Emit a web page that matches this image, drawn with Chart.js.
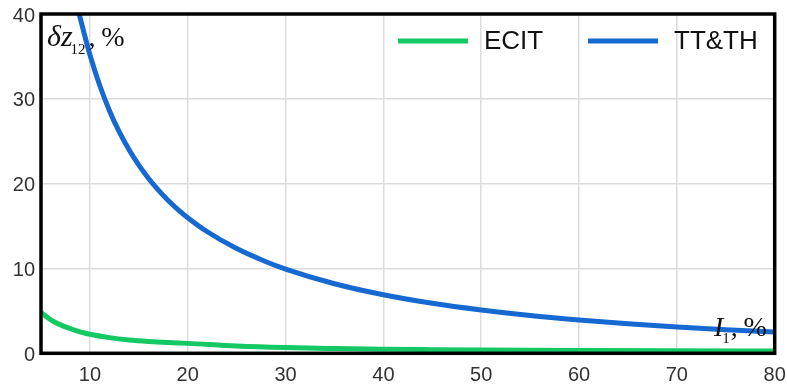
<!DOCTYPE html>
<html>
<head>
<meta charset="utf-8">
<script src="https://cdn.jsdelivr.net/npm/chart.js@4/dist/chart.umd.min.js"></script>
<style>
  html, body { margin: 0; padding: 0; background: #ffffff; }
  #wrap { width: 787px; height: 388px; position: relative; }
</style>
</head>
<body>
<div id="wrap"><canvas id="chart" width="787" height="388"></canvas></div>
<script>
// Current I1 (%) and error dz12 (%) for the two transformer variants
const ecitX = [5, 6, 7, 8, 9, 10, 12, 14, 16, 18, 20, 25, 30, 35, 40, 45, 50, 60, 70, 80];
const ecitY = [4.8, 3.95, 3.35, 2.9, 2.53, 2.24, 1.85, 1.58, 1.4, 1.27, 1.17, 0.86, 0.67, 0.56, 0.48, 0.43, 0.39, 0.33, 0.29, 0.26];

const ttthX = [8.9, 10, 11, 12, 13, 14, 15, 16, 17, 18, 19, 20, 22, 25, 28, 30, 35, 40, 45, 50, 55, 60, 65, 70, 75, 80];
const ttthY = [40, 35.2, 31.6, 28.6, 26.1, 24.0, 22.19, 20.61, 19.24, 18.02, 16.95, 15.99, 14.33, 12.35, 10.8, 9.93, 8.2, 6.9, 5.89, 5.1, 4.45, 3.93, 3.48, 3.1, 2.78, 2.5];

const xTicks = [10, 20, 30, 40, 50, 60, 70, 80];
const yTicks = [0, 10, 20, 30, 40];

const seriesNames = ['ECIT', 'TT&TH'];
const seriesColors = ['#14c864', '#1769d2'];

const toPoints = (xs, ys) => xs.map((x, i) => ({ x: x, y: ys[i] }));

// Black frame around the plotting area, legend and axis captions
const framePlugin = {
  id: 'frame',
  afterDatasetsDraw(chart) {
    const { ctx, chartArea: a } = chart;
    ctx.save();

    // legend inside the plot, top right
    const legendY = 41;
    const items = [
      { x0: 398, x1: 468, tx: 484 },
      { x0: 588, x1: 658, tx: 674 }
    ];
    ctx.font = '26px "Liberation Sans", Arial, sans-serif';
    ctx.textBaseline = 'middle';
    ctx.textAlign = 'left';
    items.forEach((it, i) => {
      ctx.strokeStyle = seriesColors[i];
      ctx.lineWidth = 5;
      ctx.beginPath();
      ctx.moveTo(it.x0, legendY);
      ctx.lineTo(it.x1, legendY);
      ctx.stroke();
      ctx.fillStyle = '#111111';
      ctx.fillText(seriesNames[i], it.tx, legendY + 1);
    });

    // y caption: δz12, %
    ctx.fillStyle = '#111111';
    ctx.textBaseline = 'alphabetic';
    let x = 47;
    ctx.font = 'italic 30px "Liberation Serif", "Times New Roman", serif';
    ctx.fillText('\u03B4z', x, 46);
    x += ctx.measureText('\u03B4z').width;
    ctx.font = '15px "Liberation Serif", "Times New Roman", serif';
    ctx.fillText('12', x - 2, 54);
    x += ctx.measureText('12').width;
    ctx.font = '28px "Liberation Serif", "Times New Roman", serif';
    ctx.fillText(',\u2009%', x + 1, 46);

    // x caption: I1, %
    x = 714;
    ctx.font = 'italic 28px "Liberation Serif", "Times New Roman", serif';
    ctx.fillText('I', x, 336);
    x += ctx.measureText('I').width;
    ctx.font = '15px "Liberation Serif", "Times New Roman", serif';
    ctx.fillText('1', x - 1, 343);
    x += ctx.measureText('1').width;
    ctx.font = '28px "Liberation Serif", "Times New Roman", serif';
    ctx.fillText(',\u2009%', x, 336);

    // frame
    ctx.strokeStyle = '#000000';
    ctx.lineWidth = 3.5;
    ctx.strokeRect(a.left, a.top, a.right - a.left, a.bottom - a.top);
    ctx.restore();
  }
};

new Chart(document.getElementById('chart'), {
  type: 'line',
  data: {
    datasets: [
      {
        label: seriesNames[0],
        data: toPoints(ecitX, ecitY),
        borderColor: seriesColors[0],
        borderWidth: 5,
        pointRadius: 0,
        cubicInterpolationMode: 'monotone',
        fill: false
      },
      {
        label: seriesNames[1],
        data: toPoints(ttthX, ttthY),
        borderColor: seriesColors[1],
        borderWidth: 5,
        pointRadius: 0,
        cubicInterpolationMode: 'monotone',
        fill: false
      }
    ]
  },
  options: {
    responsive: false,
    animation: false,
    devicePixelRatio: 1,
    layout: { padding: { top: 14, right: 12.3, left: 0, bottom: 0 } },
    plugins: {
      legend: { display: false },
      tooltip: { enabled: false }
    },
    scales: {
      x: {
        type: 'linear',
        min: 5,
        max: 80,
        afterBuildTicks: (s) => { s.ticks = xTicks.map(v => ({ value: v })); },
        afterFit: (s) => { s.height = 34.7; s.paddingLeft = 0; s.paddingRight = 0; },
        grid: { color: '#dcdcdc', lineWidth: 1.5, drawTicks: false },
        border: { display: false },
        ticks: {
          padding: 10,
          color: '#333333',
          font: { family: '"Liberation Sans", Arial, sans-serif', size: 20 }
        }
      },
      y: {
        type: 'linear',
        min: 0,
        max: 40,
        afterBuildTicks: (s) => { s.ticks = yTicks.map(v => ({ value: v })); },
        afterFit: (s) => { s.width = 41; s.paddingTop = 0; s.paddingBottom = 0; },
        grid: { color: '#dcdcdc', lineWidth: 1.5, drawTicks: false },
        border: { display: false },
        ticks: {
          padding: 6,
          labelOffset: 2,
          color: '#333333',
          font: { family: '"Liberation Sans", Arial, sans-serif', size: 20 }
        }
      }
    }
  },
  plugins: [framePlugin]
});
</script>
</body>
</html>
